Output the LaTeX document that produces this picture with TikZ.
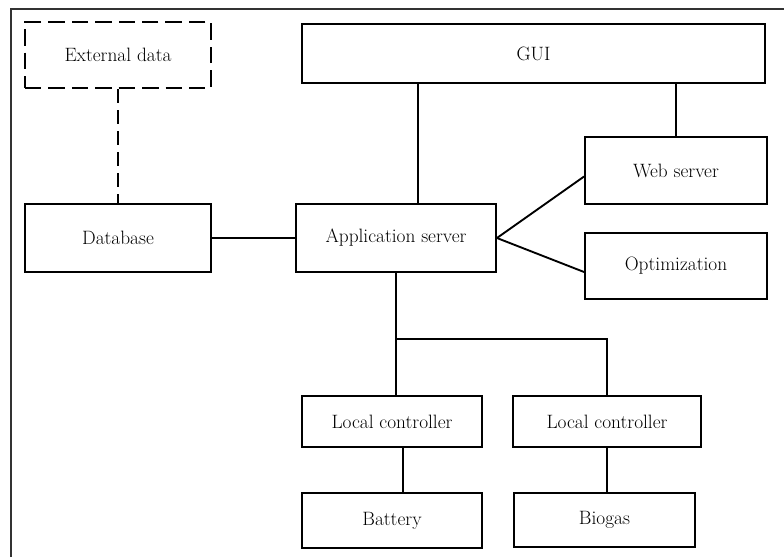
\documentclass[tikz,border=0pt]{standalone}
\usepackage{fontspec}
\usepackage{tikz}
\usetikzlibrary{positioning}

\newcommand\boxfont{\fontsize{16.5pt}{19pt}\selectfont}
\tikzset{
  block/.style 2 args={draw, line width=1.6pt, inner sep=0pt,
    minimum width=#1*0.3mm, minimum height=#2*0.3mm, font=\boxfont},
  link/.style={line width=1.6pt},
  dashlink/.style={line width=1.6pt, dash pattern=on 12pt off 6pt},
}

\begin{document}
\begin{tikzpicture}[x=0.3mm, y=-0.3mm]
    \def\px{0.3mm}
    \useasboundingbox (0,0) rectangle (784,557);
    \draw[gray!40!black, line width=0.9pt] (11,557) -- (11,9) -- (784,9);

    \node [block={186}{66}, dash pattern=on 14pt off 6pt] (ext) at (118,55) {External data};
    \node [block={186}{68}] (db) at (118,238) {Database};
    \node [block={200}{68}] (app) at (396,238) {Application server};
    \node [block={463}{59}] (gui) at (533.5,53.5) {GUI};
    \node [block={182}{67}] (web) at (676,170.5) {Web server};
    \node [block={182}{66}] (opt) at (676,266) {Optimization};
    \node [block={180}{51}] (lc1) at (392,421.5) {Local controller};
    \node [block={188}{51}] (lc2) at (607,421.5) {Local controller};
    \node [block={180}{55}] (bat) at (392,520.5) {Battery};
    \node [block={181}{54}] (bio) at (604.5,520) {Biogas};
    \coordinate (bus) at ([yshift=-66*\px]app.south);

    \draw [dashlink] (ext.south) -- (db.north);
    \draw [link] (db.east) -- (app.west);
    \draw [link] ([xshift=22*\px]app.north) -- ([xshift=22*\px]app.north |- gui.south);
    \draw [link] (web.north) -- (web.north |- gui.south);
    \draw [link] (app.east) -- ([yshift=-6*\px]web.west);
    \draw [link] (app.east) -- ([yshift=-6*\px]opt.west);
    \draw [link] (app.south) -- (app.south |- lc1.north);
    \draw [link] (bus) -| (lc2.north);
    \draw [link] ([xshift=11*\px]lc1.south) -- ([xshift=11*\px]lc1.south |- bat.north);
    \draw [link] (lc2.south) -- (lc2.south |- bio.north);
\end{tikzpicture}
\end{document}
